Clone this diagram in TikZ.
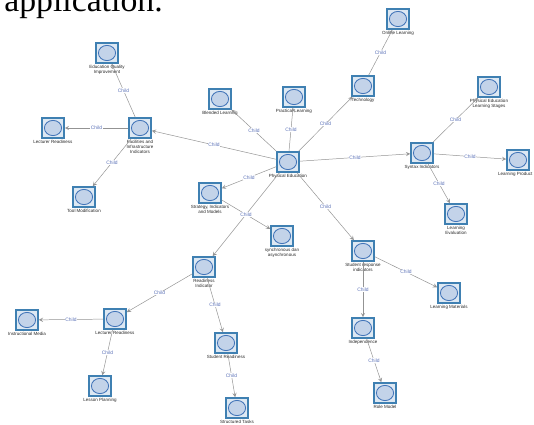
\documentclass[tikz,border=0pt]{standalone}
\usepackage{fontspec}
\setmainfont{Liberation Serif}
\setsansfont{Liberation Sans}
\usetikzlibrary{arrows}
\usetikzlibrary{shapes}
\definecolor{boxblue}{HTML}{3F80B2}
\definecolor{boxfill}{HTML}{DDE8F3}
\definecolor{ringblue}{HTML}{4274B8}
\definecolor{ringfill}{HTML}{C3D3E9}
\definecolor{childblue}{HTML}{5C72B8}
\tikzset{
        % Concept boxes
        node_concept/.style={rectangle, draw=boxblue, line width=1.1pt, fill=boxfill, inner sep=0pt,
            minimum width=0.55cm, minimum height=0.5cm,
            path picture={\draw[draw=ringblue, fill=ringfill, line width=0.6pt]
                (path picture bounding box.center) ellipse (0.215cm and 0.19cm);}},
        % Concept names under the boxes
        node_name/.style={align=center, inner sep=0.5pt, text=black!85,
            font=\sffamily\fontsize{3.2}{3.9}\selectfont},
        % Relation labels
        edge_label/.style={fill=white, inner sep=0.3pt, text=childblue,
            font=\sffamily\fontsize{3.5}{4}\selectfont},
        % Relations
        edge_child/.style={-stealth, draw=gray!85, line width=0.35pt}
}
\begin{document}
\begin{tikzpicture}[x=0.025cm, y=-0.025cm]
    \useasboundingbox (0,0) rectangle (534,425);
    \node[anchor=base west, inner sep=0pt, font=\fontsize{24}{26}\selectfont] (heading) at (4,12) {application.};

    % Centre
    \node[node_concept, label={[node_name]below:Physical Education}] (pe) at (288,162) {};
    % Facilities branch
    \node[node_concept, label={[node_name]below:Facilities and\\Infrastructure\\Indicators}] (fac) at (140,128) {};
    \node[node_concept, label={[node_name]below:Education Quality\\Improvement}] (eqi) at (107,53) {};
    \node[node_concept, label={[node_name]below:Lecturer Readiness}] (lecread) at (53,128) {};
    \node[node_concept, label={[node_name]below:Tool Modification}] (tool) at (84,197) {};
    % Upper branches
    \node[node_concept, label={[node_name]below:Blended Learning}] (blend) at (220,99) {};
    \node[node_concept, label={[node_name]below:Practical Learning}] (prac) at (294,97) {};
    \node[node_concept, label={[node_name]below:Technology}] (tech) at (363,86) {};
    \node[node_concept, label={[node_name]below:Online Learning}] (online) at (398,19) {};
    % Syntax branch
    \node[node_concept, label={[node_name]below:Syntax Indicators}] (syn) at (422,153) {};
    \node[node_concept, label={[node_name]below:Physical Education\\Learning Stages}] (stages) at (489,87) {};
    \node[node_concept, label={[node_name, xshift=-2pt]below:Learning Product}] (product) at (518,160) {};
    \node[node_concept, label={[node_name]below:Learning\\Evaluation}] (evalu) at (456,214) {};
    % Strategy branch
    \node[node_concept, label={[node_name]below:Strategy, Indicators\\and Models}] (strat) at (210,193) {};
    \node[node_concept, label={[node_name]below:synchronous dan\\asynchronous}] (sync) at (282,236) {};
    % Student response branch
    \node[node_concept, label={[node_name]below:Student response\\indicators}] (resp) at (363,251) {};
    \node[node_concept, label={[node_name]below:Learning Materials}] (materials) at (449,293) {};
    \node[node_concept, label={[node_name]below:Independence}] (indep) at (363,328) {};
    \node[node_concept, label={[node_name]below:Role Model}] (role) at (385,393) {};
    % Readiness branch
    \node[node_concept, label={[node_name]below:Readiness\\Indicator}] (ready) at (204,267) {};
    \node[node_concept, label={[node_name]below:Lecturer Readiness}] (lecturer) at (115,319) {};
    \node[node_concept, label={[node_name]below:Instructional Media}] (media) at (27,320) {};
    \node[node_concept, label={[node_name]below:Lesson Planning}] (plan) at (100,386) {};
    \node[node_concept, label={[node_name]below:Student Readiness}] (student) at (226,343) {};
    \node[node_concept, label={[node_name]below:Structured Tasks}] (tasks) at (237,408) {};

    % Child relations
    \draw[edge_child] (pe) -- node[edge_label]{Child} (fac);
    \draw[edge_child] (fac) -- node[edge_label]{Child} (eqi);
    \draw[edge_child] (fac) -- node[edge_label]{Child} (lecread);
    \draw[edge_child] (fac) -- node[edge_label]{Child} (tool);
    \draw[edge_child] (pe) -- node[edge_label]{Child} (blend);
    \draw[edge_child] (pe) -- node[edge_label]{Child} (prac);
    \draw[edge_child] (pe) -- node[edge_label]{Child} (tech);
    \draw[edge_child] (tech) -- node[edge_label]{Child} (online);
    \draw[edge_child] (pe) -- node[edge_label]{Child} (syn);
    \draw[edge_child] (syn) -- node[edge_label]{Child} (stages);
    \draw[edge_child] (syn) -- node[edge_label]{Child} (product);
    \draw[edge_child] (syn) -- node[edge_label]{Child} (evalu);
    \draw[edge_child] (pe) -- node[edge_label]{Child} (strat);
    \draw[edge_child] (strat) -- node[edge_label]{Child} (sync);
    \draw[edge_child] (pe) -- node[edge_label]{Child} (resp);
    \draw[edge_child] (resp) -- node[edge_label]{Child} (materials);
    \draw[edge_child] (resp) -- node[edge_label]{Child} (indep);
    \draw[edge_child] (indep) -- node[edge_label]{Child} (role);
    \draw[edge_child] (pe) -- node[edge_label]{Child} (ready);
    \draw[edge_child] (ready) -- node[edge_label]{Child} (lecturer);
    \draw[edge_child] (lecturer) -- node[edge_label]{Child} (media);
    \draw[edge_child] (lecturer) -- node[edge_label]{Child} (plan);
    \draw[edge_child] (ready) -- node[edge_label]{Child} (student);
    \draw[edge_child] (student) -- node[edge_label]{Child} (tasks);
\end{tikzpicture}
\end{document}
